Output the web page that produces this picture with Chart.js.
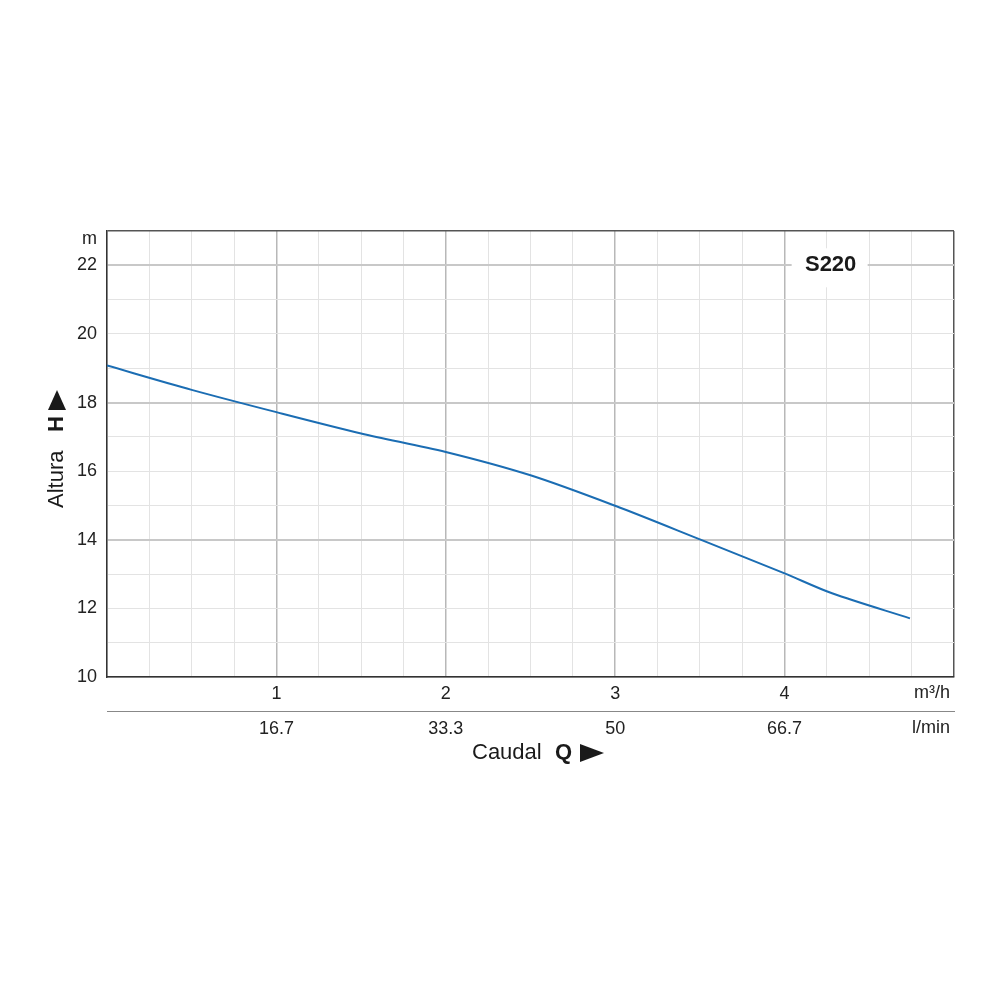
<!DOCTYPE html>
<html>
<head>
<meta charset="utf-8">
<script src="https://cdn.jsdelivr.net/npm/chart.js@4"></script>
<style>
  body { margin: 0; background: #fff; }
  canvas { display: block; }
</style>
</head>
<body>
<canvas id="pumpChart" width="1000" height="1000"></canvas>
<script>
    // curve (Q in m3/h, H in m)
    const flowM3h = [0, 0.5, 1, 1.5, 2, 2.5, 3, 3.5, 4, 4.28, 4.74];
    const headM = [19.08, 18.37, 17.72, 17.1, 16.56, 15.88, 14.99, 14.01, 13.02, 12.44, 11.71];
    const flowTicks = [1, 2, 3, 4];
    const lminLabels = ['16.7', '33.3', '50', '66.7'];
    const model = 'S220';

    const ctx = document.getElementById('pumpChart').getContext('2d');
    const font = 'Arial, "Liberation Sans", sans-serif';

    function drawTitle(c, x, y, word, letter, letterX, triFrom, triTo) {
      c.fillStyle = '#1a1a1a';
      c.textBaseline = 'middle';
      c.textAlign = 'left';
      c.font = '22px ' + font;
      c.fillText(word, x, y);
      c.font = 'bold 22px ' + font;
      c.fillText(letter, x + letterX, y);
      c.beginPath();
      c.moveTo(x + triFrom, y - 9);
      c.lineTo(x + triTo, y);
      c.lineTo(x + triFrom, y + 9);
      c.closePath();
      c.fill();
    }

    const extras = {
      id: 'extras',
      beforeDatasetsDraw(chart) {
        const c = chart.ctx;
        const xs = chart.scales.x, ys = chart.scales.y;
        // white label box for the model name
        const cx = xs.getPixelForValue(4.26), cy = ys.getPixelForValue(22);
        c.save();
        c.fillStyle = '#fff';
        c.fillRect(cx - 37, cy - 17, 76, 39);
        c.fillStyle = '#1a1a1a';
        c.font = 'bold 22px ' + font;
        c.textAlign = 'center';
        c.textBaseline = 'middle';
        c.fillText(model, cx + 2, cy);
        c.restore();
      },
      afterDraw(chart) {
        const c = chart.ctx;
        const xs = chart.scales.x, x2 = chart.scales.x2;
        c.save();
        c.fillStyle = '#222';
        c.font = '18px ' + font;
        c.textAlign = 'right';
        c.textBaseline = 'middle';
        c.fillText('m', 97, chart.chartArea.top + 8);
        c.fillText('m³/h', 950, xs.top + 16);
        c.fillText('l/min', 950, x2.top + 17);

        drawTitle(c, 472, 753, 'Caudal', 'Q', 83, 108, 132);

        c.translate(57, 508);
        c.rotate(-Math.PI / 2);
        drawTitle(c, 0, 0, 'Altura', 'H', 76, 98, 118);
        c.restore();
      }
    };

    new Chart(ctx, {
      type: 'line',
      data: {
        datasets: [{
          data: flowM3h.map((q, i) => ({ x: q, y: headM[i] })),
          borderColor: '#1b6db3',
          borderWidth: 2,
          pointRadius: 0,
          fill: false,
          tension: 0.3
        }]
      },
      options: {
        responsive: false,
        animation: false,
        layout: { padding: { top: 231, right: 46, left: 0, bottom: 259 } },
        plugins: { legend: { display: false }, tooltip: { enabled: false } },
        scales: {
          x: {
            type: 'linear',
            position: 'bottom',
            min: 0,
            max: 5,
            afterFit: s => { s.height = 34; },
            afterBuildTicks: s => {
              s.ticks = [];
              for (let v = 0; v <= 20; v++) s.ticks.push({ value: v / 4 });
            },
            ticks: {
              autoSkip: false,
              maxRotation: 0,
              padding: 6,
              color: '#222',
              font: { size: 18, family: font },
              callback: v => flowTicks.includes(v) ? String(v) : ''
            },
            grid: {
              drawTicks: false,
              color: c => c.tick.value === 5 ? '#555' : (Number.isInteger(c.tick.value) ? '#b8b8b8' : '#e3e3e3'),
              lineWidth: c => c.tick.value === 5 ? 1.5 : (Number.isInteger(c.tick.value) ? 1.5 : 1)
            },
            border: { color: '#333', width: 1.5 }
          },
          x2: {
            type: 'linear',
            position: 'bottom',
            min: 0,
            max: 5,
            afterFit: s => { s.height = 30; },
            ticks: {
              stepSize: 1,
              autoSkip: false,
              maxRotation: 0,
              padding: 7,
              color: '#222',
              font: { size: 18, family: font },
              callback: v => {
                const i = flowTicks.indexOf(v);
                return i >= 0 ? lminLabels[i] : '';
              }
            },
            grid: { drawOnChartArea: false, drawTicks: false },
            border: { color: '#888', width: 1 }
          },
          y: {
            type: 'linear',
            min: 10,
            max: 23,
            afterFit: s => { s.width = 107; },
            ticks: {
              stepSize: 1,
              padding: 10,
              color: '#222',
              font: { size: 18, family: font },
              callback: v => (v % 2 === 0 && v <= 22) ? String(v) : ''
            },
            grid: {
              drawTicks: false,
              color: c => c.tick.value === 23 ? '#555' : (c.tick.value % 4 === 2 ? '#c8c8c8' : '#e3e3e3'),
              lineWidth: c => c.tick.value === 23 ? 1.5 : (c.tick.value % 4 === 2 ? 2 : 1)
            },
            border: { color: '#333', width: 1.5 }
          }
        }
      },
      plugins: [extras]
    });
</script>
</body>
</html>
